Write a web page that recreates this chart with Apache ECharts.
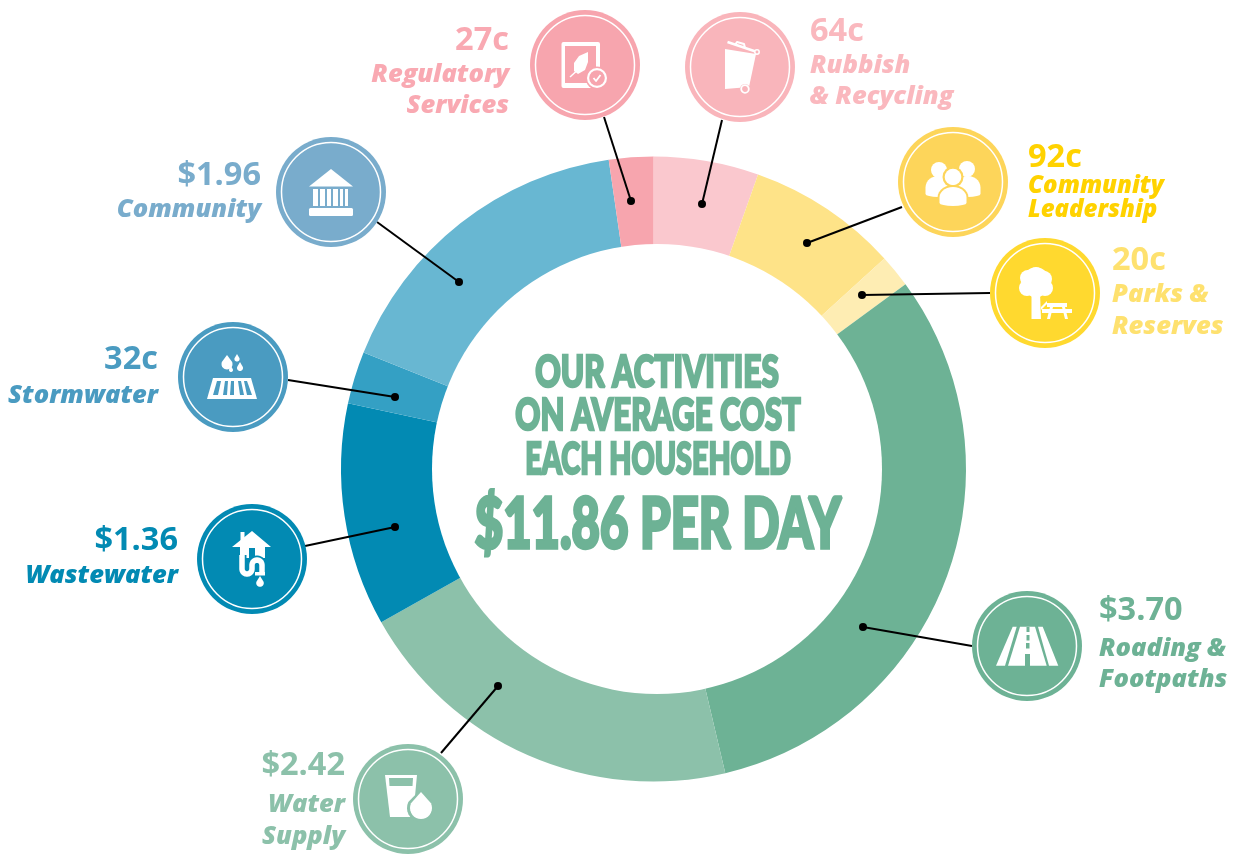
<!DOCTYPE html>
<html><head><meta charset="utf-8">
<style>html,body{margin:0;padding:0;background:#fff}#c{width:1233px;height:854px}</style>
<script src="https://cdn.jsdelivr.net/npm/echarts@6/dist/echarts.min.js"></script>
</head><body><div id="c"></div>
<script>
const categories = ['Rubbish & Recycling','Community Leadership','Parks & Reserves','Roading & Footpaths','Water Supply','Wastewater','Stormwater','Community','Regulatory Services'];
const values = [0.64,0.92,0.20,3.70,2.42,1.36,0.32,1.96,0.27];
const headline = ['OUR ACTIVITIES','ON AVERAGE COST','EACH HOUSEHOLD'];
const total = '$11.86 PER DAY';
const sliceColors = ['#FAC8CE','#FEE388','#FEEDB3','#6DB295','#8CC1AA','#028AB3','#34A0C4','#68B7D2','#F7A5AE'];
const footerBits = ['i The','d','f'];

// annotation layout, in same order as the categories
const annot = [
 {c:[740,67],bg:'#F9B5BB',tc:'#FAB8BE',dot:[702,204],end:[722,120],val:[810,32],lines:['Rubbish','& Recycling'],ly:[66,97],al:'left',sz:25.5,icon:'bin'},
 {c:[953,182],bg:'#FDD55A',tc:'#FFD200',dot:[807,243],end:[902,207],val:[1028,158],lines:['Community','Leadership'],ly:[186,210],al:'left',sz:24,icon:'people'},
 {c:[1045,293],bg:'#FFD92F',tc:'#FEE16F',dot:[862,295],end:[990,293],val:[1112,261],lines:['Parks &','Reserves'],ly:[295,327],al:'left',sz:25.5,icon:'park'},
 {c:[1027,646],bg:'#6DB295',tc:'#6DB295',dot:[863,627],end:[972,646],val:[1099,611],lines:['Roading &','Footpaths'],ly:[649,680],al:'left',sz:25.5,icon:'road'},
 {c:[408,799],bg:'#8CC1AA',tc:'#8CC1AA',dot:[498,686],end:[441,753],val:[345,766],lines:['Water','Supply'],ly:[805,837],al:'right',sz:25.5,icon:'water'},
 {c:[252,559],bg:'#028AB3',tc:'#028AB3',dot:[395,527],end:[305,546],val:[178,541],lines:['Wastewater'],ly:[576],al:'right',sz:25.5,icon:'waste'},
 {c:[233,377],bg:'#4A9BC1',tc:'#4A9BC1',dot:[395,397],end:[288,380],val:[158,360],lines:['Stormwater'],ly:[396],al:'right',sz:25.5,icon:'storm'},
 {c:[331,192],bg:'#79ACCC',tc:'#79ACCC',dot:[459,282],end:[377,222],val:[261,176],lines:['Community'],ly:[210],al:'right',sz:25.5,icon:'bank'},
 {c:[585,65],bg:'#F7A5AE',tc:'#F9A9B2',dot:[631,201],end:[604,117],val:[509,41],lines:['Regulatory','Services'],ly:[75,106],al:'right',sz:25.5,icon:'reg'}
];

const fmt = v => v < 1 ? Math.round(v*100)+'c' : '$'+v.toFixed(2);
let zc = 0;
const Z = o => Object.assign(o,{z:10,z2:zc++,silent:true});
const W='#fff';
const R=(x,y,w,h,f,r)=>Z({type:'rect',shape:{x,y,width:w,height:h,r:r||0},style:{fill:f||W}});
const C=(x,y,r,f,s,lw)=>Z({type:'circle',shape:{cx:x,cy:y,r},style:{fill:f||W,stroke:s||null,lineWidth:lw||0}});
const P=(pts,f)=>Z({type:'polygon',shape:{points:pts},style:{fill:f||W}});
const L=(pts,s,lw)=>Z({type:'polyline',shape:{points:pts},style:{fill:null,stroke:s||W,lineWidth:lw||2,lineCap:'butt',lineJoin:'round'}});
function arcPts(cx,cy,rx,ry,a0,a1,n){const o=[];for(let i=0;i<=n;i++){const a=(a0+(a1-a0)*i/n)*Math.PI/180;o.push([cx+rx*Math.cos(a),cy+ry*Math.sin(a)]);}return o;}
function drop(cx,cy,r,f,h){const top=cy-(h||r*2);const pts=[[cx,top]].concat(arcPts(cx,cy,r,r,-25,205,18));return P(pts,f);}
function body(cx,top,hw,bot,f){const midY=top+(bot-top)*0.55;
  const pts=arcPts(cx,midY,hw,midY-top,180,360,14).concat(arcPts(cx,bot-3,hw,3,0,180,8));return P(pts,f);}

const icons={
 road:b=>[
  P([[-14.3,-19.3],[-10.3,-19.3],[-22,19.7],[-31,19.7]]),
  P([[-7,-19.3],[8,-19.3],[19.7,19.7],[-19,19.7]]),
  P([[11,-19.3],[15.7,-19.3],[31.3,19.7],[22,19.7]]),
  R(-0.5,-19,3,5,b),R(-0.5,-11,3,5.5,b),R(-1,-3,3.5,5.5,b),R(-2,8,5,12,b)],
 water:b=>[
  P([[-23,-24],[9,-24],[5,18],[-18,18]]),
  P([[-19,-21],[5,-21],[4.5,-13],[-18.5,-13]],b),
  drop(13,9,14,b,19),drop(13,9,11,W,16)],
 waste:b=>{
  const pipe=[[-10,-4]].concat(arcPts(-5,10,5,5,180,0,10)).concat(arcPts(5,6,5,5,180,360,10)).concat([[10,14]]);
  return [
  R(-11.5,-27,4,10),
  P([[0,-28],[19,-12],[13,-12],[13,-1],[-12,-1],[-12,-12],[-20,-12]]),
  R(-3,-11,6,10,b),
  L(pipe,b,9),
  L(pipe,W,5.5),
  R(3,13,10,3.5),
  drop(8,24,3.8,W,7)];},
 storm:b=>[
  P([[-20,1],[18,1],[24,22],[-26,22]]),
  P([[-16,4],[-12,4],[-15,18],[-20,18]],b),
  P([[-8,4],[-5,4],[-6,18],[-10,18]],b),
  P([[-2,4],[1,4],[1,18],[-3,18]],b),
  P([[5,4],[8,4],[11,18],[7,18]],b),
  P([[11,4],[14,4],[19,18],[14,18]],b),
  drop(-6,-13,5.5,W,9),drop(4,-18,2.6,W,5),drop(7,-9,3,W,6),drop(-2,-7,2,W,4)],
 bank:b=>[
  P([[0,-23],[22,-5.5],[-22,-5.5]]),
  R(-18,-3,35,17),
  R(-13,-3,2,17,b),R(-6,-3,2,17,b),R(0,-3,2,17,b),R(7,-3,2,17,b),R(12,-3,2,17,b),
  R(-22,16,44,8,W,1.5)],
 reg:b=>[
  R(-23.5,-23,38.5,46,W,2),
  R(-20,-19,31,37,b),
  P([[3,-13],[-6,-9],[-11,-2],[-11,6],[-7,9],[0,5],[3,-3]],W),
  L([[-15,12],[-3,1]],W,1.5),
  C(12,13,11.5,b),C(12,13,10),C(12,13,7.8,b),
  L([[8.5,13],[11,16],[15.5,10]],W,1.8)],
 bin:b=>[
  P([[-15,-18],[16,-13],[9,20],[-15,22]]),
  L([[-12.5,-25],[17,-15]],W,2.5),
  L([[-5,-22],[-3,-25],[4,-23],[5,-19]],W,2),
  C(17,-15,2.2,b,W,1.5),
  C(5,22,5,b),C(5,22,3.8,b,W,1.8)],
 people:b=>[
  C(-14,-12,8),C(14,-13,8),
  body(-15,-6,12.5,15),body(15,-6,12.5,15),
  C(0,-5,10.5,b),C(0,-5,8.3),
  body(0,3,15.5,26,b),body(0,5,13.5,24)],
 park:b=>[
  C(-9,-11,14.5),C(-18,-5,8),C(0,-5,8),C(-9,-18,8),C(-1,-14,8),C(-17,-15,8),C(-9,-3,8),
  P([[-13.5,0],[-5,0],[-4,26],[-13.5,26]]),
  P([[-4,14],[2,8],[2,11],[-4,17]]),
  R(2,10,20,4),
  R(-3,16,30,4),
  P([[5,14],[8,14],[5,26],[2,26]]),
  P([[17,14],[20,14],[23,26],[20,26]])]
};

const measure=document.createElement('canvas').getContext('2d');
function fitted(text,x,y,font,targetW,lw){
  measure.font=font;
  const w=measure.measureText(text).width;
  return Z({type:'text',x,y,scaleX:(targetW-lw)/w,style:{text,font,fill:'#6DB295',stroke:'#6DB295',lineWidth:lw,align:'center',verticalAlign:'middle'}});
}

const graphic=[];
// white centre of the ring: slightly off the centre of the outer circle in the reference
graphic.push(C(657,469,225,W));
annot.forEach((a,i)=>{
  graphic.push(L([a.dot,a.end],'#000',2));
  graphic.push(C(a.dot[0],a.dot[1],4,'#000'));
  graphic.push(C(a.c[0],a.c[1],55,a.bg));
  graphic.push(C(a.c[0],a.c[1],49.5,'rgba(0,0,0,0)',W,1.5));
  graphic.push(Z({type:'group',x:a.c[0],y:a.c[1],children:icons[a.icon](a.bg)}));
  graphic.push(Z({type:'text',x:a.val[0],y:a.val[1],style:{text:fmt(values[i]),fill:a.tc,font:'bold 32.5px "Open Sans"',align:a.al,verticalAlign:'middle'}}));
  a.lines.forEach((t,j)=>graphic.push(Z({type:'text',x:a.val[0],y:a.ly[j],style:{text:t,fill:a.tc,font:'italic 800 '+a.sz+'px "Open Sans"',align:a.al,verticalAlign:'middle'}})));
});
const hf='900 43px Lato', bf='900 70px Lato';
graphic.push(fitted(headline[0],657,373,hf,246,2.5));
graphic.push(fitted(headline[1],658,416,hf,288,2.5));
graphic.push(fitted(headline[2],658,460,hf,268,2.5));
graphic.push(fitted(total,658,525,bf,370,3.5));
[[972,0],[1142,1],[1216,2]].forEach(([x,i])=>graphic.push(Z({type:'text',x,y:864,style:{text:footerBits[i],fill:'#222',font:'18px "Open Sans"',align:'left',verticalAlign:'alphabetic'}})));

const chart=echarts.init(document.getElementById('c'),null,{renderer:'canvas'});
chart.setOption({
  animation:false,
  backgroundColor:'#fff',
  series:[{type:'pie',center:[653.5,469],radius:[190,312.5],startAngle:90,clockwise:true,silent:true,z:1,
    label:{show:false},labelLine:{show:false},
    itemStyle:{borderWidth:0},
    data:values.map((v,i)=>({name:categories[i],value:v,itemStyle:{color:sliceColors[i]}}))
  }],
  graphic:{elements:graphic}
});
</script></body></html>
